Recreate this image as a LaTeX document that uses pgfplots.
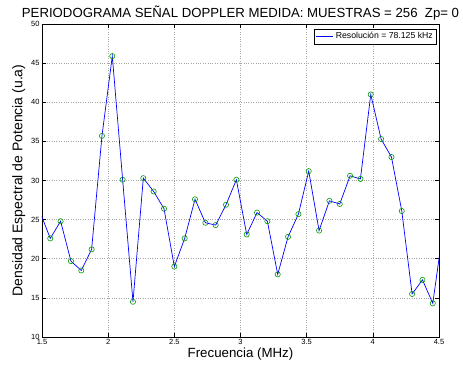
\documentclass[border=0pt]{standalone}
\usepackage{pgfplots}
\pgfplotsset{compat=1.18}
\usepackage{fontspec}
\setmainfont{Liberation Sans}

\definecolor{linea}{rgb}{0,0,1}
\definecolor{marca}{rgb}{0,0.6,0}

% Periodogram samples, spacing 78.125 kHz (k * 0.078125 MHz)
\pgfplotstableread{
f        p
1.484375 26.0
1.562500 22.6
1.640625 24.8
1.718750 19.7
1.796875 18.5
1.875000 21.2
1.953125 35.7
2.031250 45.9
2.109375 30.1
2.187500 14.5
2.265625 30.3
2.343750 28.6
2.421875 26.4
2.500000 19.0
2.578125 22.6
2.656250 27.6
2.734375 24.6
2.812500 24.3
2.890625 26.9
2.968750 30.1
3.046875 23.1
3.125000 25.9
3.203125 24.8
3.281250 18.0
3.359375 22.8
3.437500 25.7
3.515625 31.2
3.593750 23.6
3.671875 27.4
3.750000 27.0
3.828125 30.6
3.906250 30.2
3.984375 41.0
4.062500 35.3
4.140625 33.0
4.218750 26.1
4.296875 15.5
4.375000 17.3
4.453125 14.3
4.531250 23.8
}\datos

\begin{document}
\begin{tikzpicture}
\path[use as bounding box] (-42pt,-32pt) rectangle (421pt,337pt);
\begin{axis}[
  scale only axis,
  width=397pt, height=313pt,
  at={(0pt,0pt)}, anchor=south west,
  xmin=1.5, xmax=4.5, ymin=10, ymax=50,
  xtick={1.5,2,...,4.5},
  ytick={10,15,...,50},
  xticklabels={1.5,2,2.5,3,3.5,4,4.5},
  tick align=inside,
  major tick length=4pt,
  tick style={black, line width=0.5pt},
  axis line style={black, line width=0.8pt},
  grid=major,
  grid style={gray!70, dotted, line width=0.5pt},
  tick label style={font=\fontsize{7.5}{8}\selectfont},
  /pgf/number format/assume math mode=true,
  xticklabel style={yshift=1pt},
  yticklabel style={xshift=1pt},
  xlabel={Frecuencia (MHz)},
  ylabel={Densidad Espectral de Potencia (u.a)},
  xlabel style={font=\fontsize{13.3}{14}\selectfont, yshift=4pt},
  ylabel style={font=\fontsize{14}{15}\selectfont, yshift=-1pt},
  title={PERIODOGRAMA SEÑAL DOPPLER MEDIDA: MUESTRAS = 256\ \ Zp= 0},
  title style={font=\fontsize{13.2}{15}\selectfont, yshift=-6pt, xshift=0pt},
  legend style={at={(0.994,0.985)}, anchor=north east,
    font=\fontsize{8.7}{9}\selectfont, draw=black, line width=0.6pt,
    inner sep=1.5pt, row sep=0pt},
  legend cell align=left,
  legend image post style={line width=0.8pt},
  clip=true,
]
\addplot[linea, line width=0.7pt] table[x=f, y=p] {\datos};
\addlegendentry{Resolución = 78.125 kHz}
\addplot[only marks, mark=o, mark size=2.6pt, mark options={marca, line width=0.6pt},
  forget plot] table[x=f, y=p] {\datos};
\end{axis}
\end{tikzpicture}
\end{document}
